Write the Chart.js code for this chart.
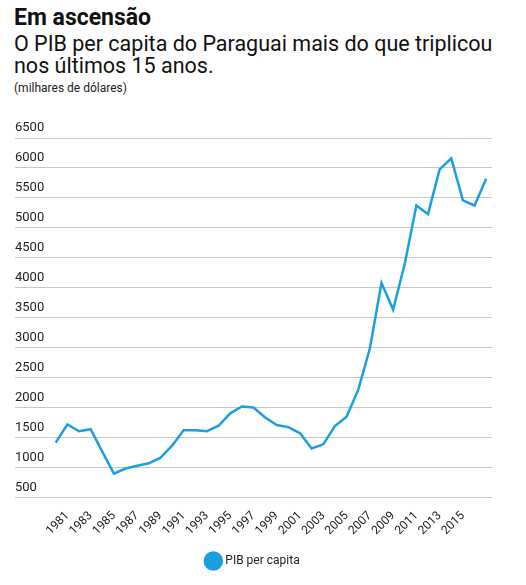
<!DOCTYPE html>
<html><head><meta charset="utf-8">
<script src="https://cdn.jsdelivr.net/npm/chart.js@4"></script>
<style>
body{margin:0;background:#fff;font-family:Roboto,sans-serif;width:526px;height:585px;overflow:hidden;position:relative}
#t{position:absolute;left:14px;top:4px;font-weight:bold;font-size:23px;color:#111}
#s{position:absolute;left:14px;top:33px;font-size:21.5px;line-height:22px;color:#111}
#u{position:absolute;left:14px;top:81px;font-size:12px;color:#222}
#w{position:absolute;left:0;top:110px;width:510px;height:467px}
</style></head><body>
<div id="t">Em ascensão</div>
<div id="s">O PIB per capita do Paraguai mais do que triplicou<br>nos últimos 15 anos.</div>
<div id="u">(milhares de dólares)</div>
<div id="w"><canvas id="c"></canvas></div>
<script>
const years=[1980,1981,1982,1983,1984,1985,1986,1987,1988,1989,1990,1991,1992,1993,1994,1995,1996,1997,1998,1999,2000,2001,2002,2003,2004,2005,2006,2007,2008,2009,2010,2011,2012,2013,2014,2015,2016,2017];
const gdp=[1420,1724,1609,1644,1270,902,988,1034,1075,1167,1368,1626,1626,1609,1701,1908,2023,2006,1839,1713,1678,1575,1322,1391,1695,1851,2299,2989,4080,3638,4397,5374,5230,5977,6161,5460,5374,5822];
const yTicks=[500,1000,1500,2000,2500,3000,3500,4000,4500,5000,5500,6000,6500];
const xTicks=[1981,1983,1985,1987,1989,1991,1993,1995,1997,1999,2001,2003,2005,2007,2009,2011,2013,2015];
new Chart(document.getElementById('c'),{type:'line',
data:{datasets:[{label:'PIB per capita',data:years.map((y,i)=>({x:y,y:gdp[i]})),borderColor:'#1aa0e0',backgroundColor:'#1aa0e0',borderWidth:2.5,pointRadius:0,tension:0}]},
options:{responsive:true,maintainAspectRatio:false,animation:false,
layout:{padding:{left:15,right:18,top:28}},
plugins:{legend:{position:'bottom',labels:{usePointStyle:true,pointStyle:'circle',boxWidth:14,boxHeight:14,color:'#222',font:{family:'Roboto',size:12},padding:14}},tooltip:{enabled:false}},
scales:{
x:{type:'linear',min:1976.5,max:2017.5,afterBuildTicks:a=>{a.ticks=xTicks.map(v=>({value:v}));},grid:{display:false},border:{display:false},ticks:{autoSkip:false,maxRotation:45,minRotation:45,color:'#222',font:{family:'Roboto',size:12},callback:v=>String(v)}},
y:{min:500,max:6500,afterBuildTicks:a=>{a.ticks=yTicks.map(v=>({value:v}));},grid:{color:'#c8c8c8',drawTicks:false},border:{display:false},ticks:{mirror:true,labelOffset:-10,padding:0,color:'#222',font:{family:'Roboto',size:13},callback:v=>String(v)}}
}}});
</script></body></html>
